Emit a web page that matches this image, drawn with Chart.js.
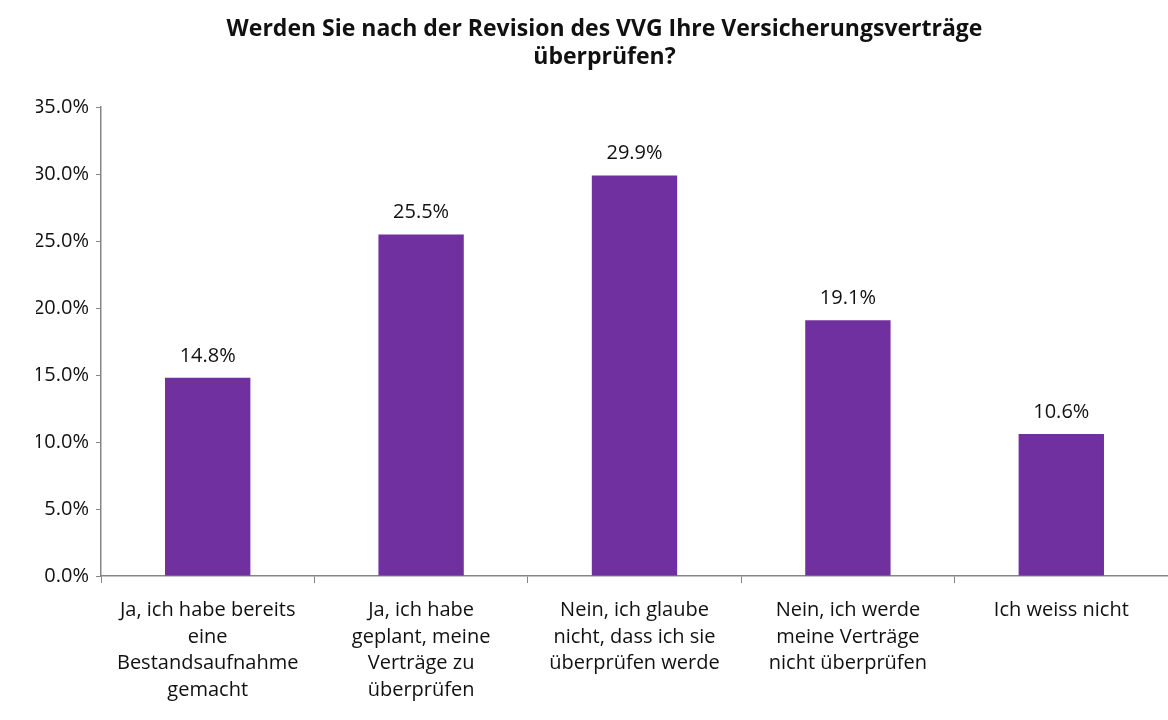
<!DOCTYPE html>
<html>
<head>
<meta charset="utf-8">
<script src="https://cdn.jsdelivr.net/npm/chart.js@4"></script>
<style>
  html, body { margin: 0; padding: 0; background: #fff; }
  #wrap { width: 1168px; height: 720px; }
</style>
</head>
<body>
<div id="wrap"><canvas id="umfrageChart" width="1168" height="720"></canvas></div>
<script>
// Antwortkategorien und Anteile (in %)
const antworten = [
  ["Ja, ich habe bereits", "eine", "Bestandsaufnahme", "gemacht"],
  ["Ja, ich habe", "geplant, meine", "Verträge zu", "überprüfen"],
  ["Nein, ich glaube", "nicht, dass ich sie", "überprüfen werde"],
  ["Nein, ich werde", "meine Verträge", "nicht überprüfen"],
  "Ich weiss nicht"
];
const anteile = [14.8, 25.5, 29.9, 19.1, 10.6];
const titelZeilen = ["Werden Sie nach der Revision des VVG Ihre Versicherungsverträge", "überprüfen?"];

const schrift = "'Open Sans', 'Liberation Sans', sans-serif";
const achsenFarbe = "#868686";

// Werte über den Balken anzeigen
const wertLabels = {
  id: "wertLabels",
  afterDatasetsDraw(chart) {
    const ctx = chart.ctx;
    const meta = chart.getDatasetMeta(0);
    ctx.save();
    ctx.font = "20px " + schrift;
    ctx.fillStyle = "#111";
    ctx.textAlign = "center";
    ctx.textBaseline = "alphabetic";
    meta.data.forEach((bar, i) => {
      ctx.fillText(anteile[i].toFixed(1) + "%", bar.x, bar.y - 16);
    });
    ctx.restore();
  }
};

const chart = new Chart(document.getElementById("umfrageChart").getContext("2d"), {
  type: "bar",
  data: {
    labels: antworten,
    datasets: [
      {
        data: anteile,
        backgroundColor: "#7030A0",
        borderWidth: 0,
        barPercentage: 0.4,
        categoryPercentage: 1.0,
      },
    ],
  },
  options: {
    responsive: false,
    animation: false,
    layout: { padding: { top: 0, left: 36, right: -5, bottom: 0 } },
    plugins: {
      legend: { display: false },
      tooltip: { enabled: false },
      title: {
        display: true,
        text: titelZeilen,
        color: "#111",
        font: { family: schrift, size: 23, weight: "bold", lineHeight: 1.22 },
        padding: { top: 15, bottom: 36 },
      },
    },
    scales: {
      x: {
        afterFit(scale) { scale.height = 144; },
        grid: {
          display: true,
          drawOnChartArea: false,
          offset: true,
          color: achsenFarbe,
          tickLength: 7,
        },
        border: { color: achsenFarbe, width: 1.5 },
        ticks: {
          color: "#111",
          font: { family: schrift, size: 20, lineHeight: 1.33 },
          maxRotation: 0,
          autoSkip: false,
          padding: 14,
        },
      },
      y: {
        min: 0,
        max: 35,
        afterFit(scale) { scale.width = 65; },
        grid: {
          display: true,
          drawOnChartArea: false,
          color: achsenFarbe,
          tickLength: 5,
        },
        border: { color: achsenFarbe, width: 1.5 },
        ticks: {
          stepSize: 5,
          color: "#111",
          font: { family: schrift, size: 20 },
          padding: 7,
          callback: (v) => v.toFixed(1) + "%",
        },
      },
    },
  },
  plugins: [wertLabels],
});
</script>
</body>
</html>
